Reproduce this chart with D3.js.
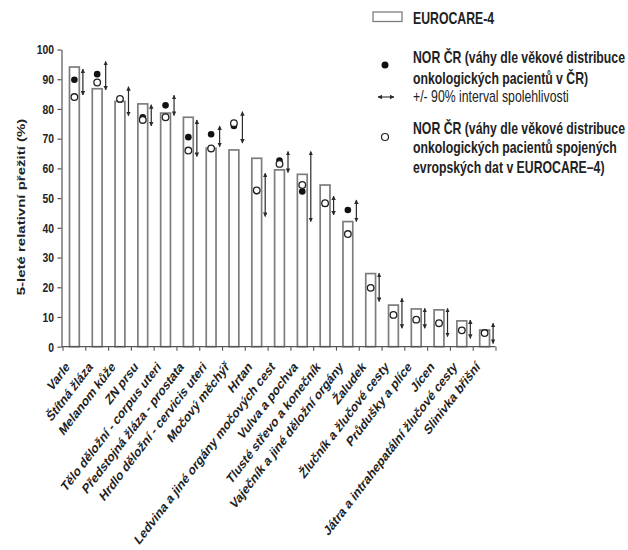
<!DOCTYPE html>
<html>
<head>
<meta charset="utf-8">
<script src="https://cdn.jsdelivr.net/npm/d3@7/dist/d3.min.js"></script>
<style>
  html, body { margin: 0; padding: 0; background: #fff; }
  svg { display: block; }
  text { font-family: "Liberation Sans", Arial, sans-serif; fill: #222; }
</style>
</head>
<body>
<svg id="chart" width="628" height="550"></svg>
<script>
// Sites (cancer localisations) along the x axis
const categories = [
  "Varle", "Štítná žláza", "Melanom kůže", "ZN prsu",
  "Tělo děložní - corpus uteri", "Předstojná žláza - prostata",
  "Hrdlo děložní - cervicis uteri", "Močový měchýř", "Hrtan",
  "Ledvina a jiné orgány močových cest", "Vulva a pochva",
  "Tlusté střevo a konečník", "Vaječník a jiné děložní orgány", "Žaludek",
  "Žlučník a žlučové cesty", "Průdušky a plíce", "Jícen",
  "Játra a intrahepatální žlučové cesty", "Slinivka břišní"
];

// EUROCARE-4 five-year relative survival (%)
const eurocare = [94.1, 86.8, 82.5, 81.7, 78.6, 77.2, 66.8, 66.2, 63.4, 59.5, 58.0, 54.4, 42.1, 24.6, 14.0, 12.7, 12.4, 8.7, 5.6];

// NOR ČR, weights by age distribution of Czech patients (%)
const norCz = [89.8, 91.7, 83.2, 77.2, 81.2, 70.5, 71.5, 74.3, 52.3, 62.6, 52.2, 48.0, 46.0, 19.8, 10.7, 9.1, 7.9, 5.5, 4.6];

// 90% confidence interval of the NOR ČR estimate
const ciLow  = [84.7, 86.4, 77.7, 74.3, 77.8, 64.0, 67.3, 68.5, 43.8, 58.6, 42.1, 44.3, 42.1, 15.2, 6.2, 6.2, 3.4, 2.8, 1.1];
const ciHigh = [93.4, 96.0, 87.5, 81.4, 84.6, 76.3, 74.3, 79.1, 58.4, 65.7, 65.7, 50.7, 49.4, 24.7, 16.3, 12.9, 12.9, 9.0, 7.9];

// NOR ČR, weights by age distribution of pooled European EUROCARE-4 data (%)
const norEu = [84.0, 88.9, 83.4, 76.3, 77.2, 66.0, 66.7, 75.2, 52.6, 61.5, 54.4, 48.3, 37.9, 19.8, 10.7, 9.1, 7.9, 5.5, 4.6];

// Y axis ticks
const yTicks = [0, 10, 20, 30, 40, 50, 60, 70, 80, 90, 100];

const legendItems = {
  bars: "EUROCARE-4",
  filled: ["NOR ČR (váhy dle věkové distribuce", "onkologických pacientů v ČR)"],
  ci: "+/- 90% interval spolehlivosti",
  open: ["NOR ČR (váhy dle věkové distribuce", "onkologických pacientů spojených", "evropských dat v EUROCARE–4)"]
};

const yTitle = "5-leté relativní přežití (%)";

const svg = d3.select("#chart");

const plot = { left: 61.5, right: 495.5, top: 49.5, bottom: 346.7 };

const x = d3.scaleBand().domain(categories).range([plot.left + 1, plot.right]).paddingInner(0).paddingOuter(0);
const xIdx = d3.scaleLinear().domain([0, categories.length]).range([plot.left + 1, plot.right]);
const y = d3.scaleLinear().domain([0, 100]).range([plot.bottom, plot.top]);

const barW = 9.8;
const cx = c => x(c) + x.bandwidth() / 2 + 0.5;
const arrowDx = 8.5;
// the figure's lettering is horizontally condensed
const squeeze = 0.767;

const rows = categories.map((c, i) => ({
  c, eu: eurocare[i], cz: norCz[i], lo: ciLow[i], hi: ciHigh[i], ep: norEu[i]
}));

// arrowhead markers
const defs = svg.append("defs");
function marker(id, orient) {
  defs.append("marker")
    .attr("id", id)
    .attr("viewBox", "0 0 10 10")
    .attr("refX", 9).attr("refY", 5)
    .attr("markerWidth", 4.5).attr("markerHeight", 4.5)
    .attr("markerUnits", "userSpaceOnUse")
    .attr("orient", orient)
    .append("path").attr("d", "M0,0 L10,5 L0,10 Z").attr("fill", "#2a2a2a");
}
marker("ahEnd", "auto");
marker("ahStart", "auto-start-reverse");

// bars
svg.append("g").selectAll("rect").data(rows).join("rect")
  .attr("x", d => cx(d.c) - barW / 2)
  .attr("y", d => y(d.eu))
  .attr("width", barW)
  .attr("height", d => y(0) - y(d.eu))
  .attr("fill", "#fff")
  .attr("stroke", "#7d7d7d")
  .attr("stroke-width", 1.7);

// confidence interval arrows
svg.append("g").selectAll("line").data(rows).join("line")
  .attr("x1", d => cx(d.c) + arrowDx).attr("x2", d => cx(d.c) + arrowDx)
  .attr("y1", d => y(d.lo)).attr("y2", d => y(d.hi))
  .attr("stroke", "#2a2a2a").attr("stroke-width", 1.2)
  .attr("marker-start", "url(#ahStart)")
  .attr("marker-end", "url(#ahEnd)");

// filled points
svg.append("g").selectAll("circle").data(rows).join("circle")
  .attr("cx", d => cx(d.c)).attr("cy", d => y(d.cz)).attr("r", 3.3)
  .attr("fill", "#111");

// open points
svg.append("g").selectAll("circle").data(rows).join("circle")
  .attr("cx", d => cx(d.c)).attr("cy", d => y(d.ep)).attr("r", 3.3)
  .attr("fill", "#fff").attr("stroke", "#222").attr("stroke-width", 1.3);

// y axis
const yAxis = svg.append("g")
  .attr("transform", `translate(${plot.left},0)`)
  .call(d3.axisLeft(y).tickValues(yTicks).tickSize(4).tickPadding(3).tickSizeOuter(0));
yAxis.select(".domain").attr("stroke", "#555").attr("stroke-width", 1.2);
yAxis.selectAll(".tick line").attr("stroke", "#555").attr("stroke-width", 1.2);
yAxis.selectAll(".tick text")
  .attr("x", null)
  .attr("transform", `translate(-7.5,0) scale(${squeeze},1)`)
  .attr("font-size", 13.5).attr("font-weight", "bold")
  .attr("font-family", null).attr("fill", "#222");

// x axis with ticks on the category boundaries
const xAxis = svg.append("g")
  .attr("transform", `translate(0,${plot.bottom})`)
  .call(d3.axisBottom(xIdx).tickValues(d3.range(0, categories.length + 1)).tickSize(4).tickFormat("").tickSizeOuter(0));
xAxis.select(".domain").attr("stroke", "#555").attr("stroke-width", 1.2)
  .attr("d", `M${plot.left},0H${plot.right}`);
xAxis.selectAll(".tick line").attr("stroke", "#555").attr("stroke-width", 1.1);

// category labels: 45° slant inside the condensed frame
svg.append("g").selectAll("text").data(categories).join("text")
  .attr("transform", c => `translate(${cx(c) - 4},${plot.bottom + 21}) scale(${squeeze},1) rotate(-45)`)
  .attr("text-anchor", "end")
  .attr("font-size", 14.2).attr("font-weight", "bold")
  .text(c => c);

// y axis title
svg.append("text")
  .attr("transform", `translate(25,207) scale(${squeeze},1) rotate(-90)`)
  .attr("text-anchor", "middle")
  .attr("font-size", 15).attr("font-weight", "bold")
  .text(yTitle);

// legend
const lg = svg.append("g");
const lx = 413;
function legendText(t, yPos, bold) {
  lg.append("text")
    .attr("transform", `translate(${lx},${yPos}) scale(${squeeze},1)`)
    .attr("font-size", 16).attr("font-weight", bold ? "bold" : "normal")
    .text(t);
}
lg.append("rect").attr("x", 373).attr("y", 12).attr("width", 29).attr("height", 9.5)
  .attr("fill", "#fff").attr("stroke", "#7d7d7d").attr("stroke-width", 1.3);
legendText(legendItems.bars, 24, true);

lg.append("circle").attr("cx", 385).attr("cy", 65).attr("r", 3.5).attr("fill", "#111");
legendItems.filled.forEach((t, i) => legendText(t, 62.5 + i * 21.5, true));

lg.append("line").attr("x1", 378).attr("x2", 394).attr("y1", 97).attr("y2", 97)
  .attr("stroke", "#2a2a2a").attr("stroke-width", 1.1)
  .attr("marker-start", "url(#ahStart)").attr("marker-end", "url(#ahEnd)");
legendText(legendItems.ci, 102, false);

lg.append("circle").attr("cx", 385).attr("cy", 137).attr("r", 3.5)
  .attr("fill", "#fff").attr("stroke", "#222").attr("stroke-width", 1.2);
legendItems.open.forEach((t, i) => legendText(t, 134 + i * 19.3, true));
</script>
</body>
</html>
